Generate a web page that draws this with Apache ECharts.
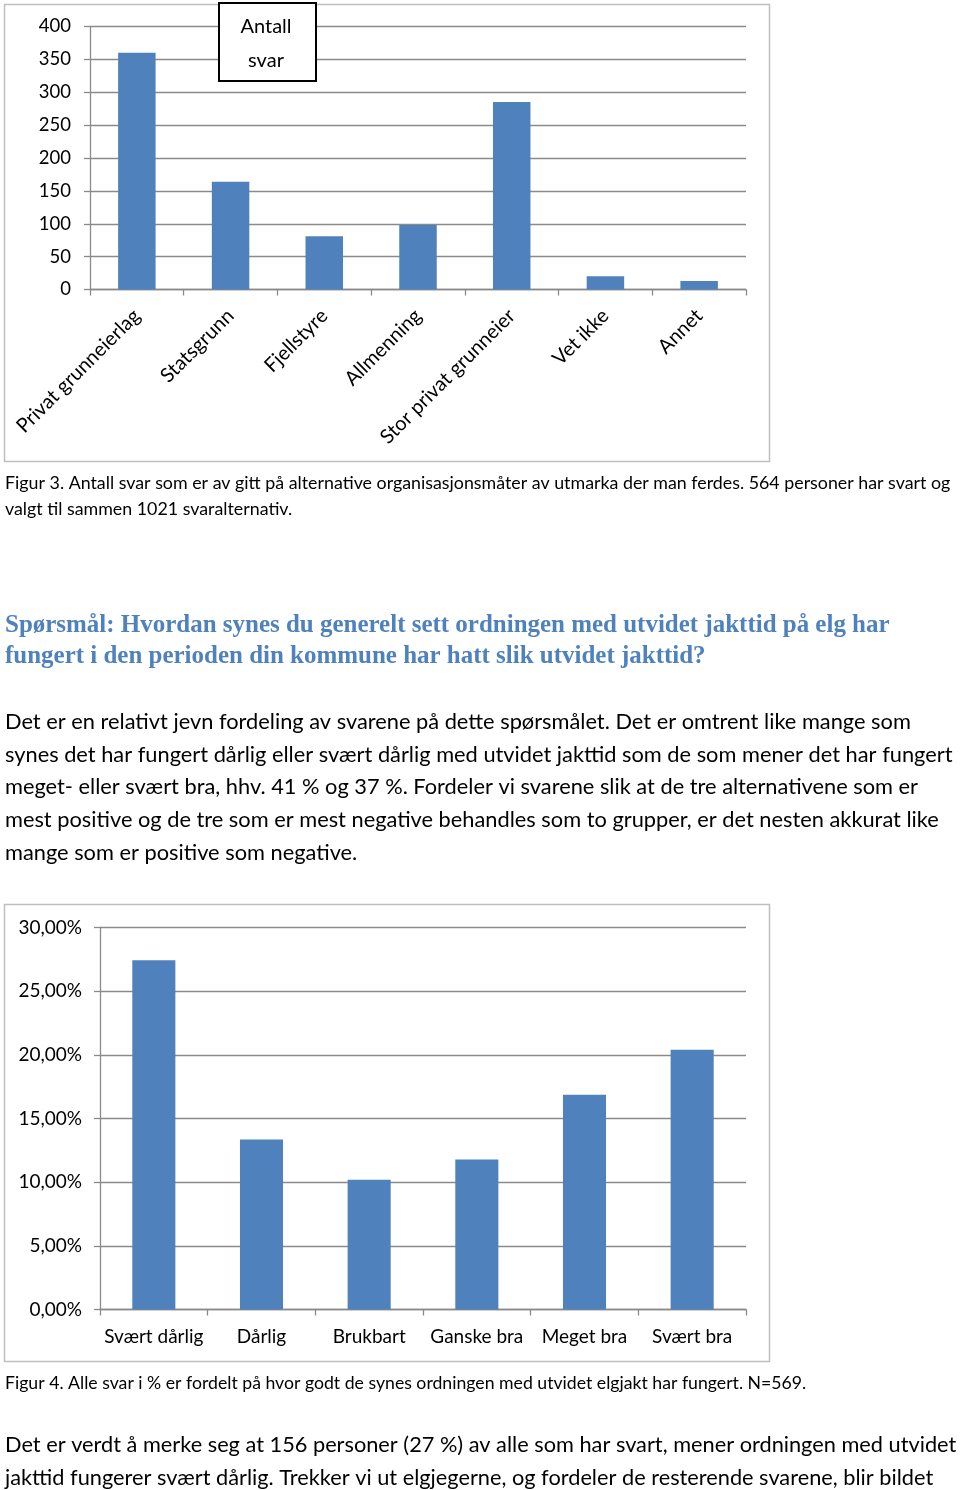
<!DOCTYPE html>
<html>
<head>
<meta charset="utf-8">
<script src="https://cdn.jsdelivr.net/npm/echarts@6/dist/echarts.min.js"></script>
<style>
html,body{margin:0;padding:0;background:#fff;}
#c{width:960px;height:1490px;}
</style>
</head>
<body>
<div id="c"></div>
<script>
// ---- Data ----
const categories1 = ['Privat grunneierlag','Statsgrunn','Fjellstyre','Allmenning','Stor privat grunneier','Vet ikke','Annet'];
const values1 = [360, 164, 81, 98, 285, 20, 13];
const seriesName1 = 'Antall svar';

const categories2 = ['Svært dårlig','Dårlig','Brukbart','Ganske bra','Meget bra','Svært bra'];
const values2 = [27.42, 13.36, 10.19, 11.78, 16.87, 20.39];

const caption1 = ['Figur 3. Antall svar som er av gitt på alternative organisasjonsmåter av utmarka der man ferdes. 564 personer har svart og',
                  'valgt til sammen 1021 svaralternativ.'];
const heading = ['Spørsmål: Hvordan synes du generelt sett ordningen med utvidet jakttid på elg har',
                 'fungert i den perioden din kommune har hatt slik utvidet jakttid?'];
const body1 = ['Det er en relativt jevn fordeling av svarene på dette spørsmålet. Det er omtrent like mange som',
               'synes det har fungert dårlig eller svært dårlig med utvidet jakttid som de som mener det har fungert',
               'meget- eller svært bra, hhv. 41 % og 37 %. Fordeler vi svarene slik at de tre alternativene som er',
               'mest positive og de tre som er mest negative behandles som to grupper, er det nesten akkurat like',
               'mange som er positive som negative.'];
const caption2 = ['Figur 4. Alle svar i % er fordelt på hvor godt de synes ordningen med utvidet elgjakt har fungert. N=569.'];
const body2 = ['Det er verdt å merke seg at 156 personer (27 %) av alle som har svart, mener ordningen med utvidet',
               'jakttid fungerer svært dårlig. Trekker vi ut elgjegerne, og fordeler de resterende svarene, blir bildet'];

// ---- Helpers ----
const FONT = 'Lato';
const SERIF = '"Liberation Serif"';
const cv = document.createElement('canvas').getContext('2d');
function fitSize(line, family, weight, target){
  cv.font = weight + ' 100px ' + family;
  return 100 * target / cv.measureText(line).width;
}
function textBlock(lines, x, y0, step, size, family, weight, color){
  return lines.map((t,i)=>({
    type:'text', x:x, y:y0+i*step, silent:true,
    style:{text:t, fontSize:size, fontFamily:family, fontWeight:weight, fill:color, verticalAlign:'middle', align:'left'}
  }));
}

const cap1Size = fitSize(caption1[0], FONT, 'normal', 946);
const headSize = fitSize(heading[0], SERIF, 'bold', 885);
const body1Size = fitSize(body1[1], FONT, 'normal', 948);
const cap2Size = fitSize(caption2[0], FONT, 'normal', 802);
const body2Size = fitSize(body2[0], FONT, 'normal', 952);

const BAR = '#4F81BD';
const GRID = '#8A8A8A';
const FRAME = '#BFBFBF';

const graphics = [
  {type:'rect', shape:{x:4.5, y:4.5, width:765, height:457}, style:{fill:'none', stroke:FRAME, lineWidth:1.5}, z:-1, silent:true},
  {type:'rect', shape:{x:4.5, y:904.5, width:765, height:457}, style:{fill:'none', stroke:FRAME, lineWidth:1.5}, z:-1, silent:true},
  ...textBlock(caption1, 5, 483, 26, cap1Size, FONT, 'normal', '#000'),
  ...textBlock(heading, 5, 626, 31, headSize, SERIF, 'bold', '#4F81BD'),
  ...textBlock(body1, 5, 722, 32.7, body1Size, FONT, 'normal', '#000'),
  ...textBlock(caption2, 5, 1383, 26, cap2Size, FONT, 'normal', '#000'),
  ...textBlock(body2, 5, 1445, 33, body2Size, FONT, 'normal', '#000')
];

const chart = echarts.init(document.getElementById('c'), null, {renderer:'canvas'});
chart.setOption({
  animation:false,
  backgroundColor:'#fff',
  textStyle:{fontFamily:FONT},
  legend:{
    show:true, data:[seriesName1], left:219, top:3,
    icon:'none', itemWidth:0, itemHeight:0, itemGap:0,
    padding:[7,17,3,9], borderColor:'#000', borderWidth:2, backgroundColor:'#fff',
    selectedMode:false,
    formatter:()=>'{a|Antall}\n{a|svar}',
    textStyle:{lineHeight:34, rich:{a:{fontSize:20, lineHeight:34, height:34, width:66, align:'center', color:'#000', fontFamily:FONT}}}
  },
  grid:[
    {left:90, right:214, top:26.5, height:263, containLabel:false},
    {left:100, right:214, top:927.5, height:382, containLabel:false}
  ],
  xAxis:[
    {type:'category', gridIndex:0, data:categories1,
     axisLine:{lineStyle:{color:GRID, width:1.3}},
     axisTick:{show:true, length:6, lineStyle:{color:GRID, width:1.3}},
     axisLabel:{rotate:45, fontSize:20, color:'#000', margin:23, interval:0}},
    {type:'category', gridIndex:1, data:categories2,
     axisLine:{lineStyle:{color:GRID, width:1.3}},
     axisTick:{show:true, length:6, lineStyle:{color:GRID, width:1.3}},
     axisLabel:{fontSize:19, color:'#000', margin:18, interval:0}}
  ],
  yAxis:[
    {type:'value', gridIndex:0, min:0, max:400, interval:50,
     axisLine:{show:true, lineStyle:{color:GRID, width:1.3}},
     axisTick:{show:true, length:6, lineStyle:{color:GRID, width:1.3}},
     splitLine:{lineStyle:{color:GRID, width:1.3}},
     axisLabel:{fontSize:18.5, color:'#000', margin:19}},
    {type:'value', gridIndex:1, min:0, max:30, interval:5,
     axisLine:{show:true, lineStyle:{color:GRID, width:1.3}},
     axisTick:{show:true, length:6, lineStyle:{color:GRID, width:1.3}},
     splitLine:{lineStyle:{color:GRID, width:1.3}},
     axisLabel:{fontSize:19, color:'#000', margin:18,
       formatter:v=>v.toFixed(2).replace('.',',')+'%'}}
  ],
  series:[
    {name:seriesName1, type:'bar', xAxisIndex:0, yAxisIndex:0, data:values1, barWidth:'40%', itemStyle:{color:BAR}},
    {name:'Andel', type:'bar', xAxisIndex:1, yAxisIndex:1, data:values2, barWidth:'40%', itemStyle:{color:BAR}}
  ],
  graphic:graphics
});
</script>
</body>
</html>
